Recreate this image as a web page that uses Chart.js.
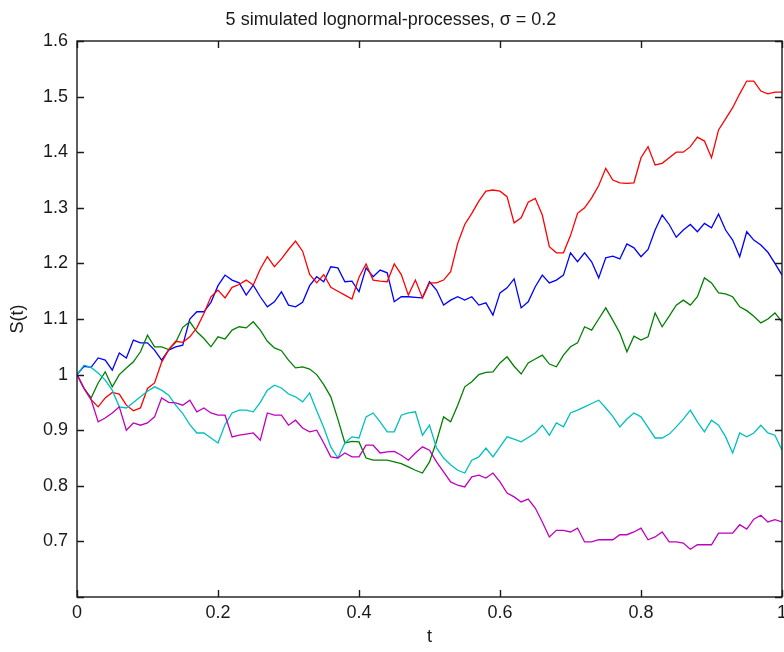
<!DOCTYPE html>
<html>
<head>
<meta charset="utf-8">
<script src="https://cdn.jsdelivr.net/npm/chart.js@4.4.1/dist/chart.umd.min.js"></script>
<style>
  body { margin: 0; background: #fff; }
  canvas { display: block; }
</style>
</head>
<body>
<canvas id="paths" width="784" height="652"></canvas>
<script>
var TITLE = '5 simulated lognormal-processes, \u03c3 = 0.2';

var T = [0, 0.01, 0.02, 0.03, 0.04, 0.05, 0.06, 0.07, 0.08, 0.09,
  0.1, 0.11, 0.12, 0.13, 0.14, 0.15, 0.16, 0.17, 0.18, 0.19,
  0.2, 0.21, 0.22, 0.23, 0.24, 0.25, 0.26, 0.27, 0.28, 0.29,
  0.3, 0.31, 0.32, 0.33, 0.34, 0.35, 0.36, 0.37, 0.38, 0.39,
  0.4, 0.41, 0.42, 0.43, 0.44, 0.45, 0.46, 0.47, 0.48, 0.49,
  0.5, 0.51, 0.52, 0.53, 0.54, 0.55, 0.56, 0.57, 0.58, 0.59,
  0.6, 0.61, 0.62, 0.63, 0.64, 0.65, 0.66, 0.67, 0.68, 0.69,
  0.7, 0.71, 0.72, 0.73, 0.74, 0.75, 0.76, 0.77, 0.78, 0.79,
  0.8, 0.81, 0.82, 0.83, 0.84, 0.85, 0.86, 0.87, 0.88, 0.89,
  0.9, 0.91, 0.92, 0.93, 0.94, 0.95, 0.96, 0.97, 0.98, 0.99, 1];

var BLUE = [1.000, 1.015, 1.013, 1.030, 1.026, 1.008, 1.039, 1.030, 1.062, 1.057,
  1.057, 1.044, 1.026, 1.044, 1.050, 1.053, 1.100, 1.113, 1.113, 1.130,
  1.160, 1.179, 1.170, 1.165, 1.143, 1.161, 1.140, 1.122, 1.131, 1.149,
  1.125, 1.122, 1.130, 1.160, 1.176, 1.167, 1.194, 1.192, 1.167, 1.168,
  1.149, 1.192, 1.176, 1.188, 1.183, 1.131, 1.140, 1.140, 1.139, 1.138,
  1.167, 1.152, 1.125, 1.134, 1.140, 1.134, 1.140, 1.125, 1.129, 1.107,
  1.147, 1.156, 1.172, 1.120, 1.131, 1.158, 1.179, 1.165, 1.170, 1.179,
  1.219, 1.203, 1.219, 1.203, 1.174, 1.210, 1.213, 1.208, 1.235, 1.228,
  1.212, 1.225, 1.260, 1.287, 1.270, 1.247, 1.260, 1.270, 1.257, 1.272,
  1.264, 1.289, 1.260, 1.242, 1.212, 1.257, 1.242, 1.233, 1.220, 1.200, 1.179];

var GREEN = [1.000, 0.975, 0.958, 0.985, 1.005, 0.978, 1.000, 1.012, 1.023, 1.041,
  1.071, 1.050, 1.050, 1.045, 1.058, 1.085, 1.095, 1.077, 1.065, 1.050,
  1.068, 1.064, 1.080, 1.086, 1.084, 1.095, 1.080, 1.060, 1.048, 1.043,
  1.026, 1.012, 1.014, 1.010, 1.000, 0.982, 0.960, 0.920, 0.877, 0.880,
  0.879, 0.850, 0.846, 0.846, 0.846, 0.843, 0.840, 0.834, 0.828, 0.823,
  0.843, 0.880, 0.924, 0.915, 0.945, 0.978, 0.987, 1.000, 1.004, 1.005,
  1.021, 1.032, 1.015, 1.001, 1.021, 1.028, 1.035, 1.019, 1.014, 1.035,
  1.050, 1.057, 1.086, 1.080, 1.100, 1.120, 1.098, 1.075, 1.041, 1.069,
  1.062, 1.068, 1.111, 1.086, 1.105, 1.125, 1.134, 1.125, 1.140, 1.174,
  1.165, 1.147, 1.145, 1.140, 1.122, 1.115, 1.105, 1.093, 1.100, 1.111, 1.095];

var RED = [1.000, 0.975, 0.955, 0.942, 0.958, 0.968, 0.965, 0.945, 0.935, 0.940,
  0.975, 0.985, 1.022, 1.045, 1.060, 1.058, 1.068, 1.084, 1.110, 1.140,
  1.152, 1.138, 1.157, 1.162, 1.170, 1.161, 1.190, 1.212, 1.194, 1.208,
  1.225, 1.240, 1.222, 1.180, 1.165, 1.180, 1.157, 1.150, 1.143, 1.136,
  1.175, 1.199, 1.170, 1.168, 1.167, 1.199, 1.180, 1.143, 1.170, 1.138,
  1.165, 1.165, 1.170, 1.185, 1.236, 1.270, 1.290, 1.312, 1.330, 1.332,
  1.330, 1.320, 1.273, 1.282, 1.310, 1.317, 1.287, 1.230, 1.219, 1.219,
  1.250, 1.290, 1.300, 1.318, 1.340, 1.371, 1.350, 1.345, 1.344, 1.345,
  1.390, 1.410, 1.377, 1.380, 1.390, 1.400, 1.400, 1.410, 1.427, 1.420,
  1.390, 1.440, 1.460, 1.480, 1.505, 1.528, 1.528, 1.510, 1.505, 1.508, 1.508];

var CYAN = [1.000, 1.017, 1.013, 1.003, 0.990, 0.972, 0.942, 0.940, 0.950, 0.960,
  0.970, 0.978, 0.972, 0.963, 0.945, 0.930, 0.910, 0.895, 0.895, 0.886,
  0.877, 0.910, 0.931, 0.936, 0.936, 0.933, 0.950, 0.972, 0.981, 0.976,
  0.965, 0.960, 0.951, 0.967, 0.935, 0.905, 0.870, 0.850, 0.877, 0.888,
  0.886, 0.924, 0.931, 0.915, 0.897, 0.897, 0.927, 0.931, 0.933, 0.891,
  0.909, 0.868, 0.850, 0.838, 0.828, 0.823, 0.846, 0.852, 0.868, 0.852,
  0.870, 0.888, 0.884, 0.879, 0.887, 0.895, 0.909, 0.891, 0.913, 0.906,
  0.931, 0.936, 0.942, 0.948, 0.954, 0.940, 0.925, 0.906, 0.920, 0.931,
  0.924, 0.905, 0.886, 0.886, 0.893, 0.906, 0.920, 0.936, 0.915, 0.897,
  0.918, 0.909, 0.888, 0.859, 0.895, 0.888, 0.895, 0.909, 0.895, 0.891, 0.864];

var MAGENTA = [1.000, 0.975, 0.955, 0.915, 0.922, 0.931, 0.942, 0.900, 0.913, 0.909,
  0.913, 0.924, 0.958, 0.950, 0.949, 0.945, 0.954, 0.933, 0.940, 0.931,
  0.927, 0.927, 0.888, 0.891, 0.893, 0.895, 0.882, 0.931, 0.927, 0.927,
  0.909, 0.918, 0.904, 0.897, 0.900, 0.877, 0.852, 0.850, 0.859, 0.852,
  0.852, 0.873, 0.873, 0.859, 0.861, 0.862, 0.855, 0.846, 0.859, 0.870,
  0.864, 0.843, 0.825, 0.807, 0.801, 0.798, 0.816, 0.819, 0.814, 0.823,
  0.807, 0.787, 0.780, 0.771, 0.776, 0.760, 0.735, 0.708, 0.720, 0.720,
  0.717, 0.724, 0.699, 0.699, 0.703, 0.703, 0.703, 0.712, 0.712, 0.717,
  0.724, 0.703, 0.708, 0.717, 0.699, 0.699, 0.697, 0.686, 0.694, 0.694,
  0.694, 0.715, 0.715, 0.715, 0.730, 0.722, 0.740, 0.747, 0.735, 0.739, 0.735];

var FONT = 'Liberation Sans, Arial, sans-serif';
var INK = '#1a1a1a';

// matlab style box with inward ticks on all four sides
var boxTicks = {
    id: 'boxTicks',
    afterDraw: function(chart) {
        var ctx = chart.ctx;
        var a = chart.chartArea;
        var xs = chart.scales.x, ys = chart.scales.y;
        var len = 7;
        ctx.save();
        ctx.strokeStyle = INK;
        ctx.lineWidth = 1.4;
        ctx.strokeRect(a.left, a.top, a.right - a.left, a.bottom - a.top);
        ctx.beginPath();
        xs.ticks.forEach(function(t) {
            var px = Math.round(xs.getPixelForValue(t.value)) + 0.5;
            ctx.moveTo(px, a.bottom); ctx.lineTo(px, a.bottom - len);
            ctx.moveTo(px, a.top); ctx.lineTo(px, a.top + len);
        });
        ys.ticks.forEach(function(t) {
            var py = Math.round(ys.getPixelForValue(t.value)) + 0.5;
            ctx.moveTo(a.left, py); ctx.lineTo(a.left + len, py);
            ctx.moveTo(a.right, py); ctx.lineTo(a.right - len, py);
        });
        ctx.stroke();
        ctx.restore();
    }
};

function series(label, values, color) {
    return {
        label: label,
        data: values,
        borderColor: color,
        backgroundColor: color,
        borderWidth: 1.3,
        pointRadius: 0,
        tension: 0,
        fill: false
    };
}

var chart = new Chart(document.getElementById('paths'), {
    type: 'line',
    data: {
        labels: T,
        datasets: [
            series('path 5', MAGENTA, '#bf00bf'),
            series('path 4', CYAN, '#00bfbf'),
            series('path 3', RED, '#ff0000'),
            series('path 2', GREEN, '#008000'),
            series('path 1', BLUE, '#0000ff')
        ]
    },
    options: {
        responsive: false,
        animation: false,
        layout: { padding: { left: 0, right: 2, top: 0, bottom: 0 } },
        plugins: {
            legend: { display: false },
            tooltip: { enabled: false },
            title: {
                display: true,
                text: TITLE,
                color: INK,
                font: { family: FONT, size: 18, weight: 'normal' },
                padding: { top: 9, bottom: 10.4 }
            }
        },
        scales: {
            x: {
                type: 'linear',
                min: 0,
                max: 1,
                grid: { display: false, drawTicks: false },
                border: { display: false },
                ticks: {
                    stepSize: 0.2,
                    padding: 5,
                    color: INK,
                    maxRotation: 0,
                    font: { family: FONT, size: 18 },
                    callback: function(v) { return +v.toFixed(1); }
                },
                title: {
                    display: true,
                    text: 't',
                    color: INK,
                    font: { family: FONT, size: 18 },
                    padding: { top: 0, bottom: 4 }
                },
                afterFit: function(s) {
                    s.height = 55;
                    s.paddingLeft = 0;
                    s.paddingRight = 0;
                }
            },
            y: {
                min: 0.6,
                max: 1.6,
                grid: { display: false, drawTicks: false },
                border: { display: false },
                ticks: {
                    stepSize: 0.1,
                    padding: 9,
                    color: INK,
                    font: { family: FONT, size: 18 },
                    callback: function(v) {
                        var r = +v.toFixed(1);
                        return r === 0.6 ? '' : r;
                    }
                },
                title: {
                    display: true,
                    text: 'S(t)',
                    color: INK,
                    font: { family: FONT, size: 18 },
                    padding: { top: 7, bottom: 0 }
                },
                afterFit: function(s) {
                    s.width = 77;
                    s.paddingTop = 0;
                    s.paddingBottom = 0;
                }
            }
        }
    },
    plugins: [boxTicks]
});
</script>
</body>
</html>
